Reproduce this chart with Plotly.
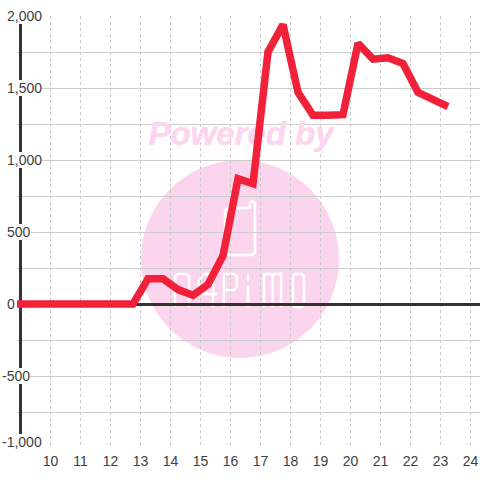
import plotly.graph_objects as go

hours = [8.75, 9.25, 9.75, 10.25, 10.75, 11.25, 11.75, 12.25, 12.75, 13.25, 13.75, 14.25, 14.75, 15.25,
         15.75, 16.25, 16.75, 17.25, 17.75, 18.25, 18.75, 19.25, 19.75, 20.25, 20.75, 21.25,
         21.75, 22.25, 22.75, 23.25]
values = [0, 0, 0, 0, 0, 0, 0, 0, 0, 175, 175, 100, 60, 135, 335, 870, 835, 1750, 1940, 1470, 1310, 1310,
          1315, 1810, 1700, 1710, 1670, 1470, 1415, 1370]
x_ticks = list(range(10, 25))
y_labels = {2000: "2,000", 1500: "1,500", 1000: "1,000", 500: "500", 0: "0", -500: "-500", -1000: "-1,000"}
watermark_text = "Powered by"

W, H = 480, 480
L, R, T, B = 17, 0, 16, 32
PW, PH = W - L - R, H - T - B
px = lambda v: (v - L) / PW
py = lambda v: 1 - (v - T) / PH


def logo_path(points, close=False):
    cmds = [("M" if i == 0 else "L") + f"{px(a):.4f},{py(b):.4f}" for i, (a, b) in enumerate(points)]
    return " ".join(cmds) + (" Z" if close else "")


logo_strokes = [
    # phone outline
    ([(225, 211), (228, 208), (250, 208), (250, 203), (252, 201), (255, 203), (255, 252), (252, 255),
      (228, 255), (225, 252)], True),
    # n
    ([(175, 307), (175, 276), (178, 274), (186, 274), (189, 276), (189, 307)], False),
    # @
    ([(213, 307), (213, 274), (204, 274), (199, 280), (199, 294), (217, 294)], False),
    # P
    ([(224, 307), (224, 274), (234, 274), (237, 277), (237, 287), (234, 290), (224, 290)], False),
    # i
    ([(248, 286), (248, 307)], False),
    ([(247, 277), (249, 277)], False),
    # m
    ([(264, 307), (264, 274), (281, 274), (281, 307)], False),
    ([(272.5, 274), (272.5, 307)], False),
    # o
    ([(293, 276), (295, 274), (302, 274), (304, 276), (304, 305), (302, 307), (295, 307), (293, 305)], True),
]

fig = go.Figure()
fig.add_trace(go.Scatter(
    x=[16.35], y=[1160], mode="text", text=[watermark_text], hoverinfo="skip", showlegend=False,
    textfont=dict(family="Liberation Sans", size=33, color="#fcd6ef", weight="bold", style="italic",
                  shadow="0 0 1px #fcd6ef")))
fig.add_trace(go.Scatter(x=hours, y=values, mode="lines", line=dict(color="#f02139", width=7.5),
                         hoverinfo="skip", showlegend=False))

shapes = [
    dict(type="circle", xref="paper", yref="paper", x0=px(141), x1=px(339), y0=py(160), y1=py(358),
         fillcolor="#fbd5ee", line_width=0, layer="below"),
]
for pts, closed in logo_strokes:
    width = 8 if pts[0] == (247, 277) else 2.5
    shapes.append(dict(type="path", xref="paper", yref="paper", path=logo_path(pts, closed),
                       line=dict(color="white", width=width), layer="below"))
shapes.append(dict(type="line", xref="x", yref="y", x0=9, x1=9, y0=-1000, y1=2000,
                   line=dict(color="#333333", width=3), layer="between"))

annotations = []
for v, t in y_labels.items():
    left = 2 if v < 0 else 7
    annotations.append(dict(
        text=t, xref="paper", yref="y", x=0, y=v, xshift=left - L, yshift=6 if v == -1000 else 0,
        xanchor="left", yanchor="middle", showarrow=False, bgcolor="white", borderpad=0, borderwidth=0,
        font=dict(family="Liberation Sans", size=14, color="#404040")))

fig.update_layout(
    width=W, height=H, margin=dict(l=L, r=R, t=T, b=B), autosize=False,
    paper_bgcolor="white", plot_bgcolor="rgba(0,0,0,0)", showlegend=False,
    shapes=shapes, annotations=annotations,
    xaxis=dict(range=[8.883, 24.317], tickmode="array", tickvals=x_ticks, ticks="", showline=False,
               showgrid=True, gridcolor="#c8c8c8", griddash="dot", gridwidth=1, zeroline=False,
               ticklabelstandoff=3,
               tickfont=dict(family="Liberation Sans", size=14, color="#404040")),
    yaxis=dict(range=[-1000, 2000], tickmode="linear", tick0=-1000, dtick=250, showticklabels=False, ticks="",
               showgrid=True, gridcolor="#cccccc", gridwidth=1, zeroline=True, zerolinecolor="#333333",
               zerolinewidth=3, showline=False),
)
fig.write_html("out.html", config=dict(displayModeBar=False),
               post_script="document.body.style.margin='0';document.documentElement.style.overflow='hidden';")
